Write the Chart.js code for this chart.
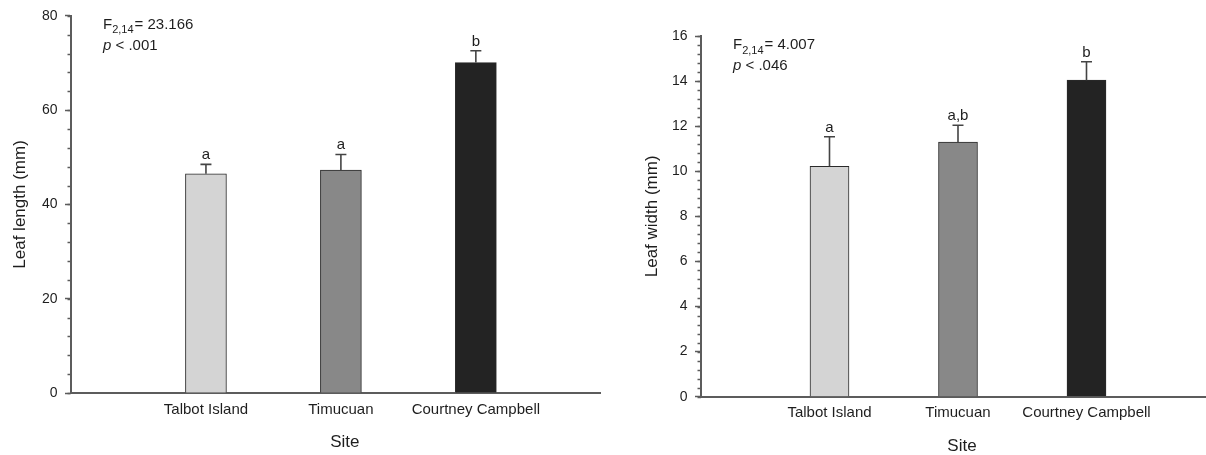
<!DOCTYPE html>
<html>
<head>
<meta charset="utf-8">
<script src="https://cdn.jsdelivr.net/npm/chart.js@4"></script>
<style>
  body { margin: 0; background: #fff; }
  .panel { position: absolute; top: 0; width: 603px; height: 455px; }
  #lenPanel { left: 0; }
  #widPanel { left: 603px; }
</style>
</head>
<body>
<div class="panel" id="lenPanel"><canvas id="lenChart" width="603" height="455"></canvas></div>
<div class="panel" id="widPanel"><canvas id="widChart" width="603" height="455"></canvas></div>
<script>
  const sites = ['Talbot Island', 'Timucuan', 'Courtney Campbell'];
  const sitePos = [1, 2, 3];
  const barColors = ['#d4d4d4', '#888888', '#232323'];

  const lengthMean = [46.5, 47.3, 70.1];
  const lengthSe = [2.0, 3.3, 2.5];
  const lengthLetters = ['a', 'a', 'b'];
  const lengthTicks = [0, 20, 40, 60, 80];

  const widthMean = [10.22, 11.29, 14.04];
  const widthSe = [1.31, 0.75, 0.82];
  const widthLetters = ['a', 'a,b', 'b'];
  const widthTicks = [0, 2, 4, 6, 8, 10, 12, 14, 16];

  const FONT = '"Liberation Sans", Arial, sans-serif';
  const TEXT = '#1e1e1e';
  const AXIS = '#5c5c5c';

  // minor ticks, error bars, letters, stats text and the x title
  const extrasPlugin = {
    id: 'extras',
    afterDraw(chart, args, opts) {
      const { ctx, chartArea } = chart;
      const x = chart.scales.x;
      const y = chart.scales.y;
      ctx.save();

      ctx.strokeStyle = AXIS;
      ctx.lineWidth = 1.5;
      for (let v = 0; v <= y.max + 1e-9; v += opts.minorStep) {
        const py = Math.round(y.getPixelForValue(v)) + 0.5;
        ctx.beginPath();
        ctx.moveTo(chartArea.left - 3.5, py);
        ctx.lineTo(chartArea.left, py);
        ctx.stroke();
      }

      const meta = chart.getDatasetMeta(0);
      ctx.strokeStyle = '#444';
      ctx.lineWidth = 1.6;
      ctx.fillStyle = TEXT;
      ctx.font = '15px ' + FONT;
      ctx.textAlign = 'center';
      ctx.textBaseline = 'alphabetic';
      meta.data.forEach((bar, i) => {
        const top = y.getPixelForValue(opts.mean[i] + opts.se[i]);
        ctx.beginPath();
        ctx.moveTo(bar.x, bar.y);
        ctx.lineTo(bar.x, top);
        ctx.moveTo(bar.x - 5.5, top);
        ctx.lineTo(bar.x + 5.5, top);
        ctx.stroke();
        ctx.fillText(opts.letters[i], bar.x, top - 5);
      });

      // F statistic and p value
      ctx.textAlign = 'left';
      let tx = chartArea.left + 32;
      const ty = chartArea.top + 13;
      ctx.font = '15px ' + FONT;
      ctx.fillText('F', tx, ty);
      tx += ctx.measureText('F').width;
      ctx.font = '11px ' + FONT;
      ctx.fillText('2,14', tx, ty + 4.5);
      tx += ctx.measureText('2,14').width + 1;
      ctx.font = '15px ' + FONT;
      ctx.fillText('= ' + opts.f, tx, ty);
      let px = chartArea.left + 32;
      ctx.font = 'italic 15px ' + FONT;
      ctx.fillText('p', px, ty + 21);
      px += ctx.measureText('p').width;
      ctx.font = '15px ' + FONT;
      ctx.fillText(' < ' + opts.p, px, ty + 21);

      ctx.font = '17px ' + FONT;
      ctx.textAlign = 'center';
      ctx.textBaseline = 'middle';
      ctx.fillText('Site', x.getPixelForValue(2) + 4, chartArea.bottom + 49.5);
      ctx.restore();
    }
  };

  function makeChart(id, cfg) {
    return new Chart(document.getElementById(id), {
      type: 'bar',
      data: {
        datasets: [{
          data: cfg.mean.map((v, i) => ({ x: sitePos[i], y: v })),
          backgroundColor: barColors,
          borderColor: '#2a2a2a',
          borderWidth: 1,
          barThickness: cfg.barWidth
        }]
      },
      options: {
        responsive: false,
        animation: false,
        events: [],
        layout: { padding: cfg.padding, autoPadding: false },
        plugins: {
          legend: { display: false },
          tooltip: { enabled: false },
          extras: {
            minorStep: cfg.minorStep,
            mean: cfg.mean,
            se: cfg.se,
            letters: cfg.letters,
            f: cfg.f,
            p: cfg.p
          }
        },
        scales: {
          x: {
            type: 'linear',
            offset: false,
            min: 0,
            max: cfg.xMax,
            afterBuildTicks(scale) {
              scale.ticks = sitePos.map((v) => ({ value: v }));
            },
            afterFit(scale) {
              scale.height = cfg.xHeight;
              scale.paddingLeft = 0;
              scale.paddingRight = 0;
            },
            ticks: {
              callback: (v) => sites[v - 1],
              autoSkip: false,
              maxRotation: 0,
              padding: 7.5,
              color: TEXT,
              font: { family: FONT, size: 15 }
            },
            grid: { display: false, drawTicks: false, offset: false },
            border: { display: true, color: AXIS, width: 2 }
          },
          y: {
            min: 0,
            max: cfg.ticks[cfg.ticks.length - 1],
            afterBuildTicks(scale) {
              scale.ticks = cfg.ticks.map((v) => ({ value: v }));
            },
            afterFit(scale) {
              scale.width = cfg.yWidth;
            },
            ticks: {
              padding: 7.5,
              color: TEXT,
              font: { family: FONT, size: 14 }
            },
            grid: {
              display: true,
              drawOnChartArea: false,
              drawTicks: true,
              tickLength: 6,
              tickColor: AXIS,
              tickWidth: 1.5
            },
            border: { display: true, color: AXIS, width: 2 },
            title: {
              display: true,
              text: cfg.yTitle,
              color: TEXT,
              font: { family: FONT, size: 17 },
              padding: { top: cfg.titlePad, bottom: 0 }
            }
          }
        }
      },
      plugins: [extrasPlugin]
    });
  }

  makeChart('lenChart', {
    mean: lengthMean,
    se: lengthSe,
    letters: lengthLetters,
    ticks: lengthTicks,
    minorStep: 4,
    yTitle: 'Leaf length (mm)',
    f: '23.166',
    p: '.001',
    barWidth: 41,
    xMax: 3.92,
    yWidth: 71,
    xHeight: 62,
    titlePad: 9.8,
    padding: { left: 0, top: 15, right: 3, bottom: 0 }
  });

  makeChart('widChart', {
    mean: widthMean,
    se: widthSe,
    letters: widthLetters,
    ticks: widthTicks,
    minorStep: 0.4,
    yTitle: 'Leaf width (mm)',
    f: '4.007',
    p: '.046',
    barWidth: 39,
    xMax: 3.93,
    yWidth: 98,
    xHeight: 58.3,
    titlePad: 38.8,
    padding: { left: 0, top: 36, right: 0, bottom: 0 }
  });
</script>
</body>
</html>
